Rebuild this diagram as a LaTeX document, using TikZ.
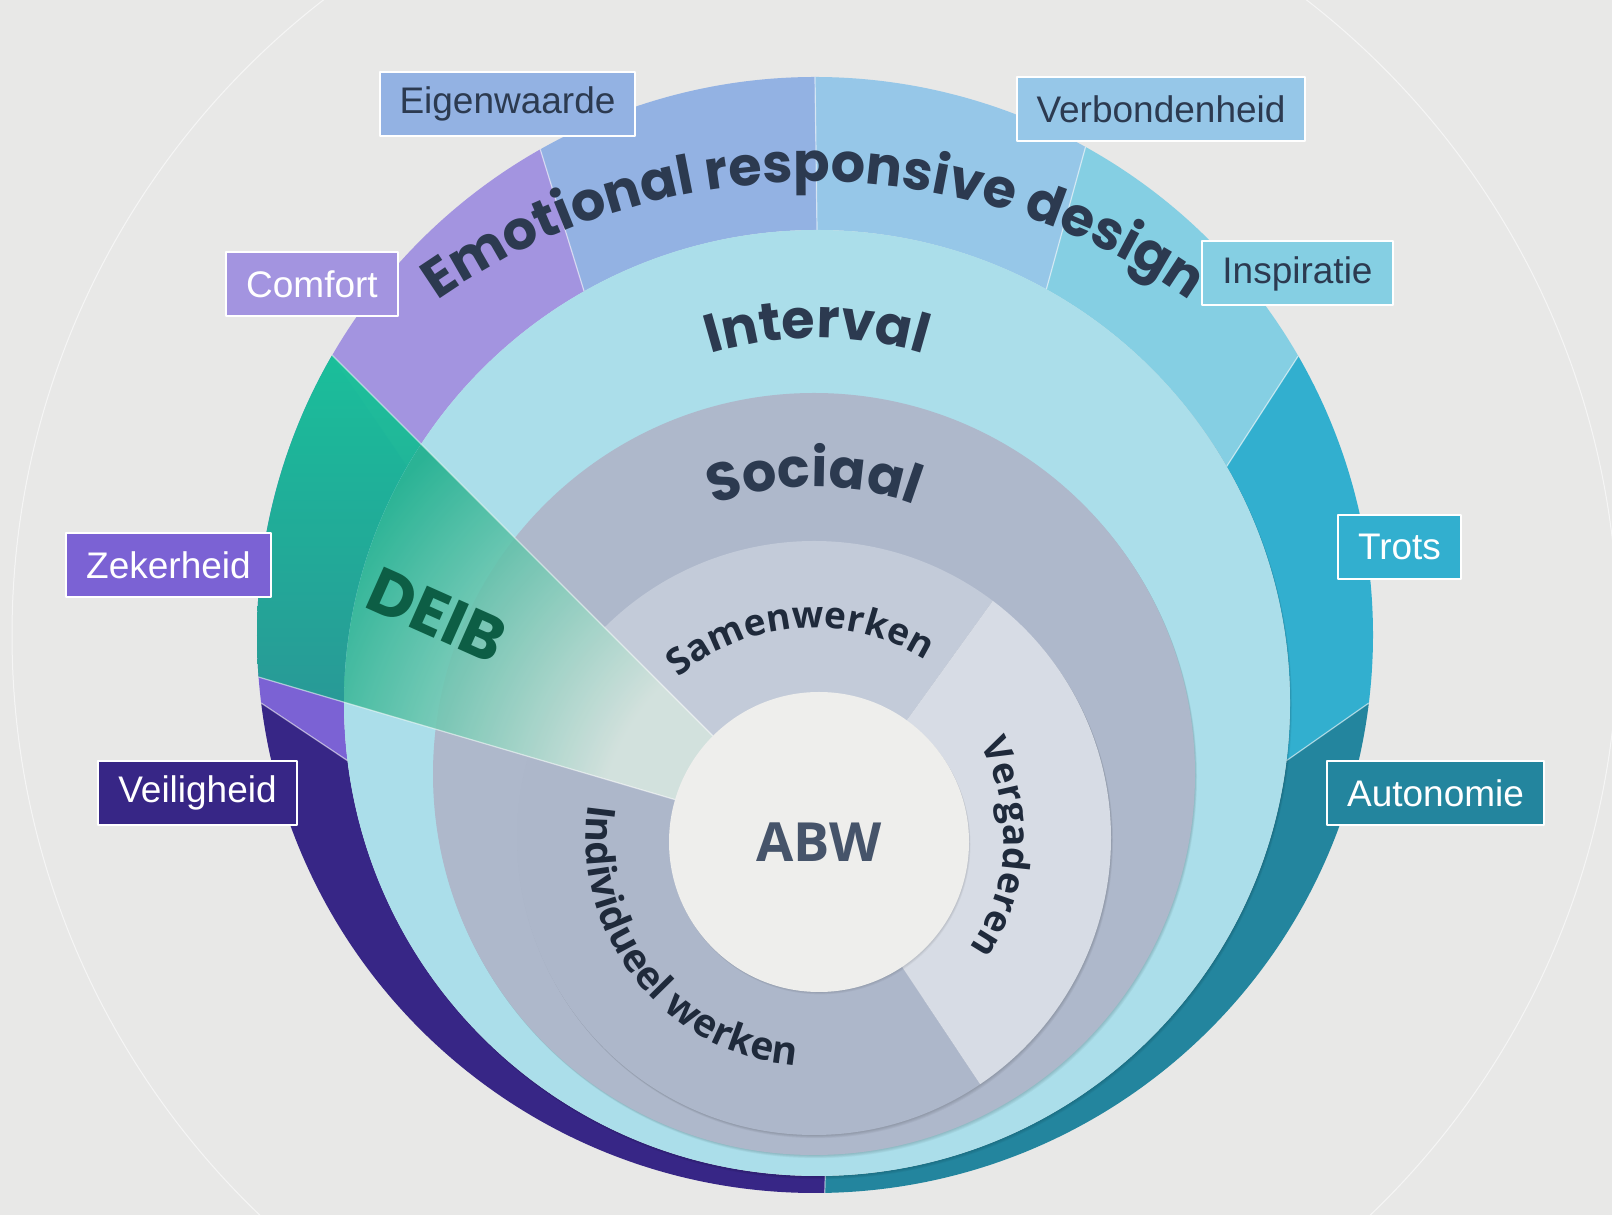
\documentclass[tikz,border=0pt]{standalone}
\usepackage{fontspec}
\setmainfont{Liberation Sans}
\newfontfamily\ringfont{Poppins}
\newfontfamily\zonefont{Open Sans}
\usetikzlibrary{calc,decorations.text}

\definecolor{bg}{HTML}{E8E8E7}
\definecolor{ink}{HTML}{2C3A50}
\definecolor{inkdark}{HTML}{1F2A3B}
\definecolor{eigen}{HTML}{93B2E3}
\definecolor{verbond}{HTML}{96C7E8}
\definecolor{inspi}{HTML}{85CFE3}
\definecolor{trots}{HTML}{32AFCF}
\definecolor{autonom}{HTML}{23859E}
\definecolor{veilig}{HTML}{372686}
\definecolor{zeker}{HTML}{7B62D4}
\definecolor{comfort}{HTML}{A394E0}
\definecolor{interval}{HTML}{ABDEEA}
\definecolor{sociaal}{HTML}{AEB8CB}
\definecolor{samen}{HTML}{C3CBD9}
\definecolor{vergad}{HTML}{D7DCE5}
\definecolor{indiv}{HTML}{ADB7CA}
\definecolor{abw}{HTML}{EEEEEC}
\definecolor{abwtext}{HTML}{46546A}
\definecolor{deibhi}{HTML}{12CC98}
\definecolor{deiblo}{HTML}{2A8E92}
\definecolor{deibin}{HTML}{D8E7E0}
\definecolor{deibout}{HTML}{1AAE8A}
\definecolor{deibtext}{HTML}{0D5E45}

\pgfdeclareradialshading{deibglow}{\pgfpointorigin}{color(0bp)=(deibin); color(6bp)=(deibin); color(15bp)=(deibout); color(50bp)=(deibout)}

\begin{document}
\begin{tikzpicture}[x=1pt, y=1pt, line join=round,
  lab/.style={draw=white, line width=2pt, inner xsep=20pt, minimum height=64pt, font=\fontsize{37}{44}\selectfont},
  divider/.style={white, opacity=.55, line width=1.2pt},
  curved/.style={decorate, decoration={text along path, text align=center, text={#1}}}]
\useasboundingbox (0,0) rectangle (1612,1215);
\fill[bg] (0,0) rectangle (1612,1215);
\clip (0,0) rectangle (1612,1215);
\coordinate (O) at (815,580);
\coordinate (I) at (817,512);
\coordinate (S) at (814,441);
\coordinate (W) at (814,377);
\coordinate (A) at (819,373);
\draw[white, opacity=.6, line width=1pt] (O) circle (803);
% outer ring
\foreach \a/\b/\col in {90/119.5/eigen, 119.5/150/comfort, 150/187/zeker, 187/271/veilig, -89/-7/autonom, -7/30/trots, 30/61/inspi, 61/90/verbond}
  \fill[fill=\col] ($(O)+(\a:558)$) arc[start angle=\a, end angle=\b, radius=558] -- ($(I)+(\b:473)$) arc[start angle=\b, end angle=\a, radius=473] -- cycle;
\foreach \a in {-89,-7,30,61,90,119.5,187}
  \draw[divider] ($(O)+(\a:558)$) -- ($(I)+(\a:473)$);
% DEIB slice, outer part
\begin{scope}
  \clip (O) circle (558);
  \shade[top color=deibhi, bottom color=deiblo, opacity=.95]
    (A) -- ($(A)+(135:800)$) arc[start angle=135, end angle=163.6, radius=800] -- cycle;
\end{scope}
% interval and sociaal discs
\foreach \c/\r/\col in {I/473/interval, S/381/sociaal}{
  \foreach \d in {1,...,4} \fill[black, opacity=.04] ($(\c)+(.5*\d,-.8*\d)$) circle (\r);
  \fill[fill=\col] (\c) circle (\r);
}
% werkplekken
\foreach \d in {1,...,4} \fill[black, opacity=.04] ($(W)+(.5*\d,-.8*\d)$) circle (297);
\foreach \a/\b/\col in {53/135/samen, 135/304/indiv, -56/53/vergad}
  \fill[fill=\col] (A) -- ($(W)+(\a:297)$) arc[start angle=\a, end angle=\b, radius=297] -- cycle;
% DEIB slice, inner part
\begin{scope}
  \clip (I) circle (473);
  \clip (A) -- ($(A)+(135:800)$) arc[start angle=135, end angle=163.6, radius=800] -- cycle;
  \shade[shading=deibglow, opacity=.88] (A) circle (920);
\end{scope}
\begin{scope}
  \clip (O) circle (558);
  \draw[divider] ($(A)+(135:150)$) -- ($(A)+(135:800)$) ($(A)+(163.6:150)$) -- ($(A)+(163.6:800)$);
\end{scope}
\foreach \d in {1,...,3} \fill[black, opacity=.04] ($(A)+(.5*\d,-.8*\d)$) circle (150);
\fill[abw] (A) circle (150);
\node[font=\zonefont\bfseries\fontsize{54}{60}\selectfont, text=abwtext] (abwlbl) at (A) {ABW};
% ring titles
\path[curved={|\ringfont\bfseries\fontsize{54}{60}\selectfont\color{ink}|Emotional responsive design}] ($(W)+(150:656)$) arc[start angle=150, end angle=30, radius=656];
\path[curved={|\ringfont\bfseries\fontsize{54}{60}\selectfont\color{ink}|Interval}] ($(I)+(150:365)$) arc[start angle=150, end angle=30, radius=365];
\path[curved={|\ringfont\bfseries\fontsize{54}{60}\selectfont\color{ink}|Sociaal}] ($(S)+(150:287)$) arc[start angle=150, end angle=30, radius=287];
\path[curved={|\zonefont\bfseries\fontsize{37}{42}\selectfont\color{inkdark}|Samenwerken}] ($(W)+(164:210)$) arc[start angle=164, end angle=24, radius=210];
\path[curved={|\zonefont\bfseries\fontsize{37}{42}\selectfont\color{inkdark}|Vergaderen}] ($(W)+(57:190)$) arc[start angle=57, end angle=-63, radius=190];
\path[curved={|\zonefont\bfseries\fontsize{39}{44}\selectfont\color{inkdark}|Individueel werken}] ($(W)+(128.5:228)$) arc[start angle=128.5, end angle=308.5, radius=228];
\node[rotate=-24, font=\ringfont\bfseries\fontsize{64}{70}\selectfont, text=deibtext] (deib) at (437,600) {DEIB};
% labels
\node[lab, fill=eigen, text=ink] (eigenwaarde) at (507.5,1111) {Eigenwaarde};
\node[lab, fill=verbond, text=ink] (verbondenheid) at (1161,1105.5) {Verbondenheid};
\node[lab, fill=comfort, text=white] (comfortlbl) at (312,931) {Comfort};
\node[lab, fill=inspi, text=ink] (inspiratie) at (1297.5,941.5) {Inspiratie};
\node[lab, fill=zeker, text=white] (zekerheid) at (168.5,649.5) {Zekerheid};
\node[lab, fill=trots, text=white] (trotslbl) at (1399.5,668) {Trots};
\node[lab, fill=veilig, text=white] (veiligheid) at (197.5,422) {Veiligheid};
\node[lab, fill=autonom, text=white] (autonomie) at (1435.5,422) {Autonomie};
\end{tikzpicture}
\end{document}
